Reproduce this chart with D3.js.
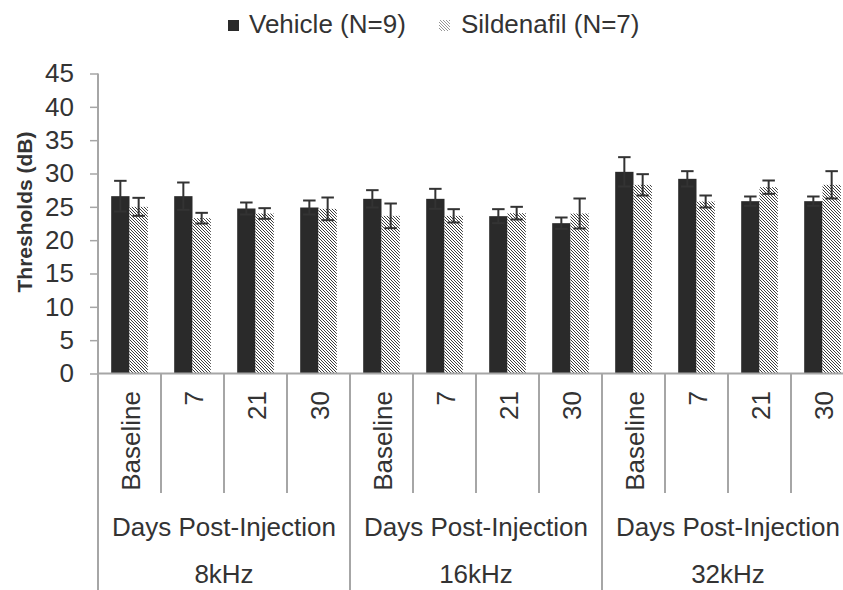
<!DOCTYPE html>
<html>
<head>
<meta charset="utf-8">
<script src="https://cdn.jsdelivr.net/npm/d3@7"></script>
<style>
  html, body { margin: 0; padding: 0; background: #fff; }
  svg { display: block; font-family: "Liberation Sans", Arial, sans-serif; }
</style>
</head>
<body>
<svg id="chart" width="843" height="590"></svg>
<script>
// ---- Data ----
const groups = ["8kHz", "16kHz", "32kHz"];
const days = ["Baseline", "7", "21", "30"];
const groupTitle = "Days Post-Injection";
const seriesNames = ["Vehicle (N=9)", "Sildenafil (N=7)"];
const vehicle = [26.6, 26.6, 24.75, 24.9, 26.2, 26.2, 23.6, 22.55, 30.25, 29.2, 25.85, 25.85];
const vehicleErr = [2.3, 2.05, 0.9, 1.05, 1.3, 1.5, 1.05, 0.85, 2.2, 1.15, 0.7, 0.7];
const sildenafil = [25.0, 23.3, 24.0, 24.7, 23.65, 23.65, 24.05, 24.0, 28.3, 25.8, 27.95, 28.3];
const sildenafilErr = [1.35, 0.8, 0.8, 1.7, 1.85, 1.0, 0.95, 2.25, 1.6, 0.9, 1.0, 2.05];
const yTicks = [0, 5, 10, 15, 20, 25, 30, 35, 40, 45];
const yTitle = "Thresholds (dB)";

// ---- Layout ----
const svg = d3.select("#chart");
const left = 98, catW = 63, nCat = groups.length * days.length;
const yTop = 73.5, yBottom = 373.5, bottom = 590;
const axisColor = "#a6a6a6", textColor = "#333";

const keys = [];
groups.forEach(g => days.forEach(d => keys.push(g + "|" + d)));

const x = d3.scaleBand().domain(keys).range([left, left + catW * nCat]).paddingInner(0).paddingOuter(0);
const xInner = d3.scaleBand().domain(["v", "s"]).range([0, x.bandwidth()]).paddingInner(0).paddingOuter(0.72);
const y = d3.scaleLinear().domain([0, 45]).range([yBottom, yTop]);

// patterns
const defs = svg.append("defs");
function hatch(id, color, w) {
  const p = defs.append("pattern").attr("id", id).attr("patternUnits", "userSpaceOnUse")
    .attr("width", 3).attr("height", 3);
  p.append("rect").attr("width", 3).attr("height", 3).attr("fill", "#fff");
  p.append("path").attr("d", "M-1,-1 L4,4 M-1,2 L1,4 M2,-1 L4,1")
    .attr("stroke", color).attr("stroke-width", w);
}
hatch("hatch", "#333", 0.95);
hatch("hatchLight", "#8a8a8a", 0.9);

// ---- Y axis ----
const yAxis = d3.axisLeft(y).tickValues(yTicks).tickSize(8).tickPadding(16).tickFormat(d3.format("d"));
const yg = svg.append("g").attr("transform", `translate(${left},0)`).call(yAxis);
yg.select(".domain").remove();
yg.selectAll(".tick line").attr("stroke", axisColor).attr("stroke-width", 1.5);
yg.selectAll(".tick text").attr("fill", textColor).style("font-size", "26px")
  .style("font-family", "'Liberation Sans', Arial, sans-serif");

svg.append("text")
  .attr("transform", `translate(32,212) rotate(-90)`)
  .attr("text-anchor", "middle")
  .attr("fill", textColor)
  .style("font-size", "21px").style("font-weight", "bold")
  .text(yTitle);

// ---- Bars ----
const data = keys.map((k, i) => ({ key: k, v: vehicle[i], ve: vehicleErr[i], s: sildenafil[i], se: sildenafilErr[i] }));
const bars = svg.append("g");
bars.selectAll("rect.v").data(data).join("rect")
  .attr("x", d => x(d.key) + xInner("v"))
  .attr("width", xInner.bandwidth())
  .attr("y", d => y(d.v))
  .attr("height", d => y(0) - y(d.v))
  .attr("fill", "#2a2a2a");
bars.selectAll("rect.s").data(data).join("rect")
  .attr("x", d => x(d.key) + xInner("s"))
  .attr("width", xInner.bandwidth())
  .attr("y", d => y(d.s))
  .attr("height", d => y(0) - y(d.s))
  .attr("fill", "url(#hatch)");

// error bars
const capW = 12.5;
function errBars(key, valF, errF) {
  const g = bars.append("g");
  data.forEach(d => {
    const cx = x(d.key) + xInner(key) + xInner.bandwidth() / 2;
    const hi = y(valF(d) + errF(d)), lo = y(valF(d) - errF(d));
    g.append("line").attr("x1", cx).attr("x2", cx).attr("y1", hi).attr("y2", lo)
      .attr("stroke", "#333").attr("stroke-width", 2);
    [hi, lo].forEach(yy => g.append("line").attr("x1", cx - capW / 2).attr("x2", cx + capW / 2)
      .attr("y1", yy).attr("y2", yy).attr("stroke", "#333").attr("stroke-width", 2));
  });
}
errBars("v", d => d.v, d => d.ve);
errBars("s", d => d.s, d => d.se);

// ---- X axis structure ----
const ax = svg.append("g").attr("stroke", axisColor).attr("stroke-width", 2);
ax.append("line").attr("x1", left).attr("x2", left + catW * nCat).attr("y1", yBottom).attr("y2", yBottom);
ax.append("line").attr("x1", left).attr("x2", left).attr("y1", yTop).attr("y2", bottom);
keys.forEach((k, i) => {
  const xx = x(k) + x.bandwidth();
  const isGroupEnd = (i + 1) % days.length === 0;
  ax.append("line").attr("x1", xx).attr("x2", xx).attr("y1", yBottom)
    .attr("y2", isGroupEnd ? bottom : 493);
});

// category labels
const lab = svg.append("g").attr("fill", textColor).style("font-size", "26px");
keys.forEach(k => {
  const cx = x(k) + x.bandwidth() / 2;
  lab.append("text")
    .attr("transform", `translate(${cx + 10},391) rotate(-90)`)
    .attr("text-anchor", "end")
    .text(k.split("|")[1]);
});
groups.forEach(g => {
  const x0 = x(g + "|" + days[0]);
  const x1 = x(g + "|" + days[days.length - 1]) + x.bandwidth();
  const cx = (x0 + x1) / 2;
  lab.append("text").attr("x", cx).attr("y", 536).attr("text-anchor", "middle").text(groupTitle);
  lab.append("text").attr("x", cx).attr("y", 583).attr("text-anchor", "middle").text(g);
});

// ---- Legend ----
const leg = svg.append("g");
leg.append("rect").attr("x", 228).attr("y", 20).attr("width", 11).attr("height", 11).attr("fill", "#2a2a2a");
leg.append("text").attr("x", 249).attr("y", 33).attr("fill", textColor).style("font-size", "26px").text(seriesNames[0]);
leg.append("rect").attr("x", 439).attr("y", 20).attr("width", 11).attr("height", 11).attr("fill", "url(#hatchLight)");
leg.append("text").attr("x", 461).attr("y", 33).attr("fill", textColor).style("font-size", "26px").text(seriesNames[1]);
</script>
</body>
</html>
